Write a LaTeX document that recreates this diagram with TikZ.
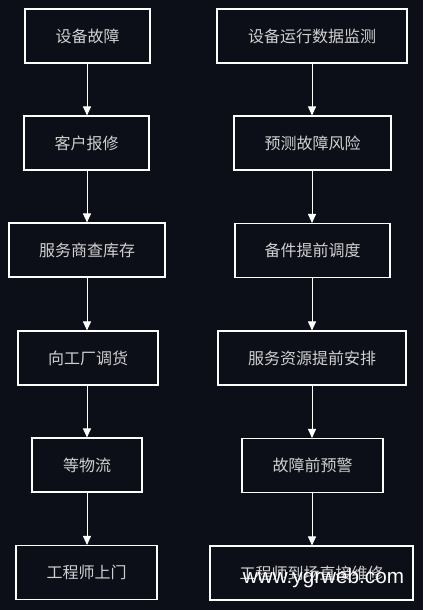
\documentclass[tikz,border=0pt]{standalone}
\usepackage{fontspec}
\newfontfamily\cjk{Noto Sans CJK SC}
\newfontfamily\wmfont{Liberation Sans}
\usetikzlibrary{arrows.meta}
\definecolor{bgdark}{HTML}{0C0F17}
\definecolor{txtgray}{HTML}{D0D0D0}

\begin{document}
\begin{tikzpicture}[x=1pt,y=-1pt]
      \tikzstyle{flowbox}=[draw=white,line width=1.1pt,fill=bgdark,text=txtgray,minimum height=54pt,inner sep=0pt,font=\cjk\fontsize{16}{19}\selectfont]
      \tikzstyle{flow}=[draw=white,line width=0.9pt,-{Triangle[length=9pt,width=8pt]}]
      \useasboundingbox (0,0) rectangle (423,610);
      \fill[bgdark] (0,0) rectangle (423,610);
      %%% traditional process
      \node (fault) at (87.5,36) [flowbox,minimum width=125pt] {设备故障};
      \node (report) at (86.5,143) [flowbox,minimum width=125pt] {客户报修};
      \node (stock) at (87,250) [flowbox,minimum width=156pt] {服务商查库存};
      \node (transfer) at (88,358) [flowbox,minimum width=140pt] {向工厂调货};
      \node (logistics) at (87,465) [flowbox,minimum width=110pt] {等物流};
      \node (visit) at (86.5,572.5) [flowbox,minimum width=141pt] {工程师上门};
      \draw[flow] (fault.south -| 87,0) -- (report.north -| 87,0);
      \draw[flow] (report.south -| 87,0) -- (stock.north -| 87,0);
      \draw[flow] (stock.south -| 87,0) -- (transfer.north -| 87,0);
      \draw[flow] (transfer.south -| 87,0) -- (logistics.north -| 87,0);
      \draw[flow] (logistics.south -| 87,0) -- (visit.north -| 87,0);
      %%% predictive process
      \node (monitor) at (312,36) [flowbox,minimum width=190pt] {设备运行数据监测};
      \node (predict) at (312.5,143) [flowbox,minimum width=157pt] {预测故障风险};
      \node (dispatch) at (312.5,250.5) [flowbox,minimum width=155pt] {备件提前调度};
      \node (arrange) at (312,358) [flowbox,minimum width=188pt] {服务资源提前安排};
      \node (warn) at (312.5,465.5) [flowbox,minimum width=141pt] {故障前预警};
      \node (repair) at (311.5,573) [flowbox,minimum width=203pt] {工程师到场直接维修};
      \draw[flow] (monitor.south -| 312,0) -- (predict.north -| 312,0);
      \draw[flow] (predict.south -| 312,0) -- (dispatch.north -| 312,0);
      \draw[flow] (dispatch.south -| 312,0) -- (arrange.north -| 312,0);
      \draw[flow] (arrange.south -| 312,0) -- (warn.north -| 312,0);
      \draw[flow] (warn.south -| 312,0) -- (repair.north -| 312,0);
      %%% watermark
      \node (mark) at (323.5,578) [text=white,inner sep=0pt,font=\wmfont\fontsize{20.7}{24}\selectfont] {www.ygrweb.com};
\end{tikzpicture}
\end{document}
